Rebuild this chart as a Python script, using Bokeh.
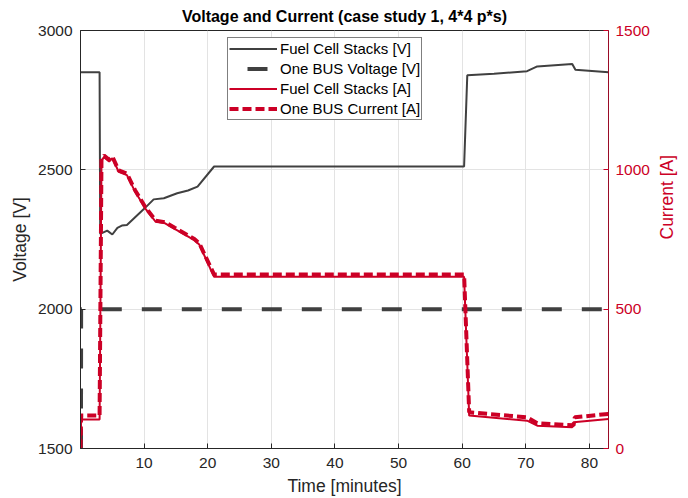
import math
from bokeh.plotting import figure
from bokeh.models import Range1d, LinearAxis, FixedTicker, Legend, LegendItem
from bokeh.embed import file_html
from bokeh.resources import INLINE

# ---- data ----
t_fc_v = [0, 3.0, 3.1, 4.2, 5.0, 5.8, 6.5, 7.3, 10.0, 11.5, 13.1, 15.2, 16.9, 18.4, 21.0,
          60.3, 60.8, 65.0, 70.2, 71.8, 77.3, 77.8, 83.0]
v_fc = [2850, 2850, 2270, 2282, 2268, 2292, 2300, 2302, 2360, 2394, 2398, 2416, 2426, 2440, 2512,
        2512, 2839, 2845, 2854, 2871, 2880, 2859, 2850]

t_bus_v = [0, 0.1, 83.0]
v_bus = [0, 2000, 2000]

t_fc_i = [0, 0.1, 3.0, 3.3, 3.7, 4.5, 5.0, 6.0, 7.3, 8.6, 10.2, 11.8, 13.3, 14.8, 17.9, 18.7, 21.0,
          60.3, 61.1, 70.2, 71.8, 77.3, 77.5, 83.0]
i_fc = [0, 104, 104, 1035, 1045, 1030, 1042, 993, 981, 921, 861, 814, 808, 788, 748, 731, 616,
        616, 118, 100, 82, 76, 94, 106]

t_bus_i = [0, 0.1, 3.0, 3.3, 3.7, 4.5, 5.0, 6.0, 7.3, 8.6, 10.2, 11.8, 13.3, 14.8, 17.9, 18.7, 21.0,
           60.3, 61.1, 70.2, 71.8, 77.5, 77.7, 83.0]
i_bus = [0, 118, 118, 1040, 1051, 1036, 1048, 998, 986, 926, 866, 818, 812, 792, 752, 735, 624,
         624, 130, 112, 91, 83, 112, 124]

x_ticks = [10, 20, 30, 40, 50, 60, 70, 80]
v_ticks = [1500, 2000, 2500, 3000]
i_ticks = [0, 500, 1000, 1500]

DARK = "#404040"
RED = "#CC0026"
AX = "#262626"
FONT = "Liberation Sans"

p = figure(frame_width=528, frame_height=418, output_backend="svg", toolbar_location=None,
           x_range=Range1d(0, 83), y_range=Range1d(1500, 3000),
           min_border_left=80, min_border_right=72, min_border_top=30, min_border_bottom=48,
           title="Voltage and Current (case study 1, 4*4 p*s)")
p.extra_y_ranges = {"cur": Range1d(0, 1500)}

p.title.align = "center"
p.title.vertical_align = "top"
p.title.text_font = FONT
p.title.text_font_size = "16px"
p.title.text_font_style = "bold"
p.title.text_color = "#000000"
p.title.offset = 0
p.title.standoff = 8

p.outline_line_color = AX
p.outline_line_width = 1
p.background_fill_color = "white"
p.border_fill_color = "white"

# grid
p.xgrid.ticker = FixedTicker(ticks=x_ticks)
p.ygrid.ticker = FixedTicker(ticks=v_ticks)
p.xgrid.grid_line_color = "#e3e3e3"
p.ygrid.grid_line_color = "#e3e3e3"

# x axis
xa = p.xaxis[0]
xa.ticker = FixedTicker(ticks=x_ticks)
xa.axis_label = "Time [minutes]"
# left axis
ya = p.yaxis[0]
ya.ticker = FixedTicker(ticks=v_ticks)
ya.axis_label = "Voltage [V]"
for a in (xa, ya):
    a.axis_line_color = AX
    a.major_tick_line_color = AX
    a.major_tick_in = 5
    a.major_tick_out = 0
    a.minor_tick_line_color = None
    a.major_label_text_font = FONT
    a.major_label_text_font_size = "15.5px"
    a.major_label_text_color = AX
    a.axis_label_text_font = FONT
    a.axis_label_text_font_size = "17.5px"
    a.axis_label_text_font_style = "normal"
    a.axis_label_text_color = AX
xa.major_label_standoff = 9
xa.axis_label_standoff = 5
ya.major_label_standoff = 8
ya.axis_label_standoff = 5

# right axis
ra = LinearAxis(y_range_name="cur", ticker=FixedTicker(ticks=i_ticks), axis_label="Current [A]")
ra.axis_line_color = RED
ra.axis_line_alpha = 0.7
ra.major_tick_line_color = RED
ra.major_tick_in = 5
ra.major_tick_out = 0
ra.minor_tick_line_color = None
ra.major_label_text_font = FONT
ra.major_label_text_font_size = "15.5px"
ra.major_label_text_color = RED
ra.major_label_standoff = 7
ra.axis_label_text_font = FONT
ra.axis_label_text_font_size = "17.5px"
ra.axis_label_text_font_style = "normal"
ra.axis_label_text_color = RED
ra.axis_label_standoff = 14
ra.axis_label_orientation = math.pi / 2
p.add_layout(ra, "right")

# lines
r1 = p.line(t_fc_v, v_fc, line_color=DARK, line_width=2)
r2 = p.line(t_bus_v, v_bus, line_color=DARK, line_width=4, line_dash="20 20", line_dash_offset=22)
r3 = p.line(t_fc_i, i_fc, line_color=RED, line_width=2, y_range_name="cur")
r4 = p.line(t_bus_i, i_bus, line_color=RED, line_width=4, line_dash="9 4", y_range_name="cur")

leg = Legend(items=[
    LegendItem(label="Fuel Cell Stacks [V]", renderers=[r1]),
    LegendItem(label="One BUS Voltage [V]", renderers=[r2]),
    LegendItem(label="Fuel Cell Stacks [A]", renderers=[r3]),
    LegendItem(label="One BUS Current [A]", renderers=[r4]),
], location=(147, 328))
leg.label_text_font = FONT
leg.label_text_font_size = "15px"
leg.label_text_color = "#000000"
leg.glyph_width = 48
leg.glyph_height = 19
leg.label_height = 19
leg.label_width = 140
leg.label_standoff = 3
leg.spacing = 1
leg.padding = 1
leg.margin = 0
leg.border_line_color = "#000000"
leg.border_line_width = 1
leg.background_fill_color = "white"
leg.background_fill_alpha = 1
p.add_layout(leg, "center")

open("out.html", "w").write(file_html(p, INLINE))
